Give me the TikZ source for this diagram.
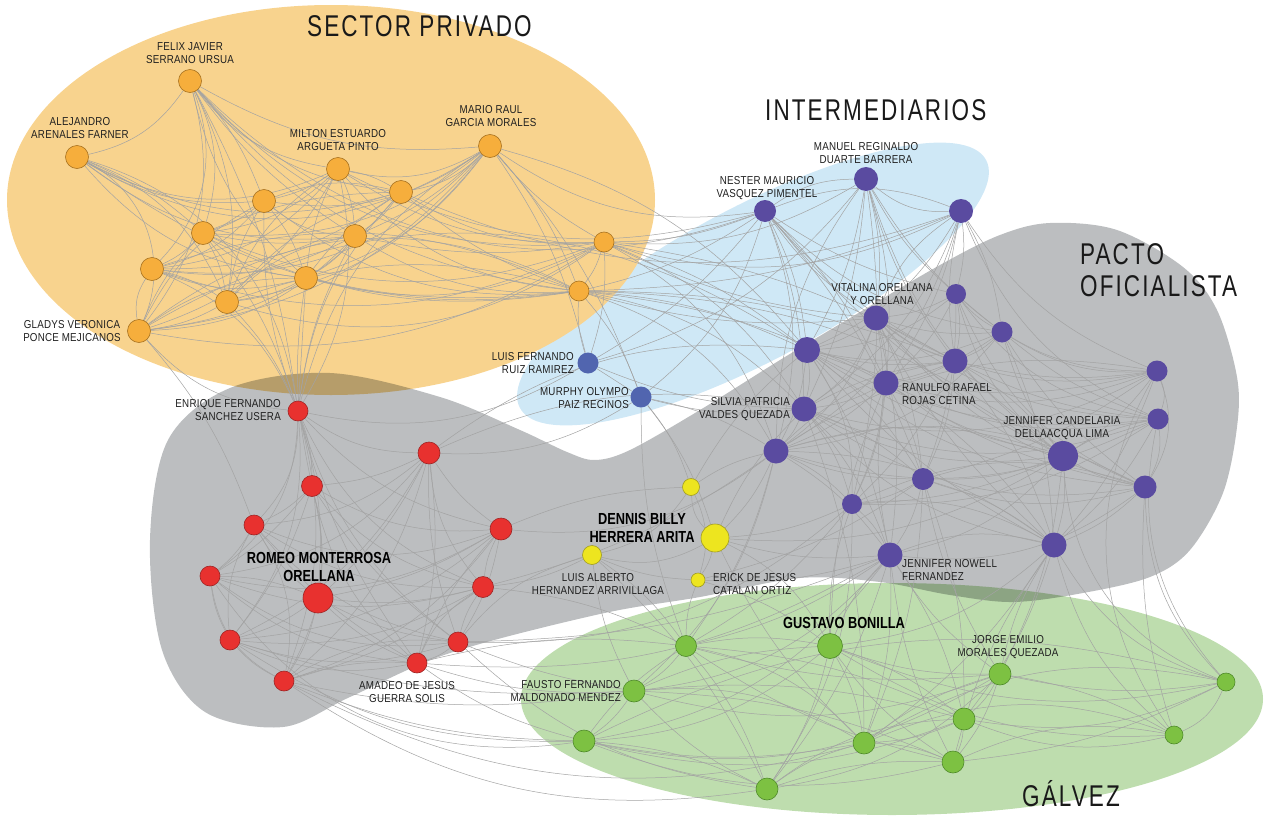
\documentclass[tikz,border=0pt]{standalone}
\usepackage{fontspec}
\setmainfont{Liberation Sans}
\newfontfamily\lblf{Liberation Sans}[FakeStretch=0.85,LetterSpace=2]
\newfontfamily\blf{Liberation Sans}[FakeStretch=0.8]
\newfontfamily\ttlf{Liberation Sans}[FakeStretch=0.75,LetterSpace=7]
\pgfdeclarelayer{regions}
\pgfdeclarelayer{edges}
\pgfsetlayers{regions,edges,main}
\definecolor{orgreg}{HTML}{F8D38E}
\definecolor{bluereg}{HTML}{CFE8F6}
\definecolor{grayreg}{HTML}{BCBEC0}
\definecolor{greenreg}{HTML}{BEDDAE}
\definecolor{orgn}{HTML}{F6AE3C}
\definecolor{orgd}{HTML}{A87220}
\definecolor{redn}{HTML}{E8312F}
\definecolor{redd}{HTML}{9E2424}
\definecolor{purn}{HTML}{5A4BA0}
\definecolor{blun}{HTML}{5165AF}
\definecolor{yeln}{HTML}{EDE51F}
\definecolor{yeld}{HTML}{9F9A20}
\definecolor{grnn}{HTML}{7DC142}
\definecolor{grnd}{HTML}{4F8A2A}
\tikzset{
  vtx/.style={circle,inner sep=0pt,line width=0.6pt},
  orv/.style={vtx,fill=orgn,draw=orgd,minimum size=23pt},
  rdv/.style={vtx,fill=redn,draw=redd,minimum size=20pt},
  puv/.style={vtx,fill=purn,minimum size=24pt},
  buv/.style={vtx,fill=blun,minimum size=21pt},
  yev/.style={vtx,fill=yeln,draw=yeld,minimum size=17pt},
  grv/.style={vtx,fill=grnn,draw=grnd,minimum size=22pt},
  lnk/.style={draw=black!36,line width=0.5pt},
  lbl/.style={font=\lblf\fontsize{11.5}{12.5}\selectfont,align=center,inner sep=0pt,text=black!88},
  blbl/.style={font=\blf\bfseries\fontsize{16}{18.5}\selectfont,align=center,inner sep=0pt,text=black},
  ttl/.style={font=\ttlf\fontsize{30}{32}\selectfont,inner sep=0pt,anchor=base west,text=black!90},
}
\newcommand{\drawlinks}[1]{\foreach \a/\b/\c in {#1}{\pgfmathtruncatemacro{\bb}{2.2*\c}\draw[lnk] (\a) to[bend left=\bb] (\b);}}
\begin{document}
\begin{tikzpicture}[x=1pt,y=-1pt]
\useasboundingbox (0,0) rectangle (1267,819);
\begin{pgfonlayer}{regions}
\fill[bluereg, rotate around={28:(753,284)}] (753,284) ellipse [x radius=264, y radius=77];
\fill[orgreg] (331,200) ellipse [x radius=324, y radius=195];
\begin{scope}[blend mode=multiply]
\fill[grayreg] plot[smooth cycle, tension=0.55] coordinates {
 (330,373) (440,397) (520,430) (567,452) (595,460) (630,450) (700,410) (780,360) (850,318)
 (940,265) (1000,235) (1050,223) (1117,230) (1183,267) (1217,310) (1237,377) (1237,427)
 (1223,493) (1190,550) (1150,577) (1083,593) (1013,602) (950,595) (880,582) (800,578)
 (700,597) (600,614) (450,653) (350,697) (283,727) (205,712) (162,650) (150,540) (168,440) (230,388)};
\fill[greenreg] (892,699) ellipse [x radius=371, y radius=116];
\end{scope}
\end{pgfonlayer}
% orange
\node[orv] (O1) at (190,81) {};
\node[orv] (O2) at (77,157) {};
\node[orv] (O3) at (338,169) {};
\node[orv] (O4) at (490,146) {};
\node[orv] (O5) at (401,192) {};
\node[orv] (O6) at (264,201) {};
\node[orv] (O7) at (203,233) {};
\node[orv] (O8) at (355,236) {};
\node[orv] (O9) at (152,269) {};
\node[orv] (O10) at (306,278) {};
\node[orv] (O11) at (227,302) {};
\node[orv] (O12) at (139,331) {};
\node[orv,minimum size=20pt] (O13) at (604,242) {};
\node[orv,minimum size=20pt] (O14) at (579,291) {};
% blue
\node[buv] (B1) at (588,363) {};
\node[buv] (B2) at (641,397) {};
% purple
\node[puv,minimum size=22pt] (P1) at (765,211) {};
\node[puv] (P2) at (866,179) {};
\node[puv] (P3) at (961,211) {};
\node[puv,minimum size=20pt] (P4) at (956,294) {};
\node[puv,minimum size=25pt] (P5) at (876,318) {};
\node[puv,minimum size=21pt] (P6) at (1002,332) {};
\node[puv,minimum size=26pt] (P7) at (807,350) {};
\node[puv,minimum size=25pt] (P8) at (955,361) {};
\node[puv,minimum size=25pt] (P9) at (886,383) {};
\node[puv,minimum size=25pt] (P10) at (804,409) {};
\node[puv,minimum size=21pt] (P11) at (1157,371) {};
\node[puv,minimum size=21pt] (P12) at (1158,419) {};
\node[puv,minimum size=30pt] (P13) at (1063,456) {};
\node[puv,minimum size=25pt] (P14) at (776,451) {};
\node[puv,minimum size=22pt] (P15) at (923,479) {};
\node[puv,minimum size=20pt] (P16) at (852,504) {};
\node[puv,minimum size=23pt] (P17) at (1145,487) {};
\node[puv,minimum size=25pt] (P18) at (1054,545) {};
\node[puv,minimum size=25pt] (P19) at (890,555) {};
% yellow
\node[yev] (Y1) at (691,487) {};
\node[yev,minimum size=28pt] (Y2) at (715,538) {};
\node[yev,minimum size=19pt] (Y3) at (592,555) {};
\node[yev,minimum size=14pt] (Y4) at (698,580) {};
% red
\node[rdv] (R1) at (298,411) {};
\node[rdv,minimum size=22pt] (R2) at (429,453) {};
\node[rdv,minimum size=21pt] (R3) at (312,486) {};
\node[rdv] (R4) at (254,525) {};
\node[rdv,minimum size=22pt] (R5) at (501,529) {};
\node[rdv] (R6) at (210,576) {};
\node[rdv,minimum size=21pt] (R7) at (483,587) {};
\node[rdv,minimum size=30pt] (R8) at (318,598) {};
\node[rdv] (R9) at (230,640) {};
\node[rdv] (R10) at (458,642) {};
\node[rdv] (R11) at (417,663) {};
\node[rdv] (R12) at (284,681) {};
% green
\node[grv,minimum size=21pt] (G1) at (686,646) {};
\node[grv,minimum size=25pt] (G2) at (830,646) {};
\node[grv] (G3) at (634,691) {};
\node[grv] (G4) at (1000,674) {};
\node[grv,minimum size=18pt] (G5) at (1226,682) {};
\node[grv] (G6) at (964,719) {};
\node[grv] (G7) at (584,741) {};
\node[grv] (G8) at (864,743) {};
\node[grv,minimum size=18pt] (G9) at (1174,735) {};
\node[grv] (G10) at (953,762) {};
\node[grv] (G11) at (767,789) {};

\begin{pgfonlayer}{edges}
\drawlinks{
O1/O2/10, O1/O3/-10, O1/O4/-8, O1/O5/-10, O1/O6/5, O1/O7/10, O1/O8/-5, O1/O9/15, O1/O10/-8, O1/O11/8, O1/O12/12, O1/O13/-12, O1/O14/-10,
O2/O3/-12, O2/O4/-15, O2/O6/-8, O2/O7/5, O2/O8/-10, O2/O10/-10, O2/O11/10, O2/O12/20, O2/O5/-10, O2/O14/-10,
O3/O4/-10, O3/O5/5, O3/O6/5, O3/O7/8, O3/O8/5, O3/O9/10, O3/O10/-5, O3/O11/-8, O3/O12/10, O3/O13/-8, O3/O14/-10,
O4/O5/8, O4/O6/10, O4/O7/10, O4/O8/5, O4/O9/12, O4/O10/8, O4/O11/10, O4/O12/10, O4/O13/-5, O4/O14/5,
O5/O6/-8, O5/O7/-5, O5/O8/5, O5/O9/8, O5/O10/-5, O5/O11/-8, O5/O12/10, O5/O13/-8, O5/O14/-5,
O6/O7/5, O6/O8/-8, O6/O9/8, O6/O10/5, O6/O11/-5, O6/O12/-8, O6/O14/-10,
O7/O8/-5, O7/O9/5, O7/O10/-8, O7/O11/5, O7/O12/-5, O7/O13/-10, O7/O14/-8,
O8/O9/8, O8/O10/5, O8/O11/-8, O8/O12/10, O8/O13/-5, O8/O14/-8,
O9/O10/-8, O9/O11/5, O9/O12/-10, O9/O14/10, O9/O13/-10,
O10/O11/5, O10/O12/-8, O10/O13/-10, O10/O14/-5,
O11/O12/5, O11/O13/-12, O11/O14/8, O12/O14/15, O12/O13/-10, O13/O14/5,
O1/R1/5, O3/R1/10, O6/R1/-5, O7/R1/5, O8/R1/-5, O10/R1/0, O11/R1/5, O9/R1/10, O5/R1/-8, O12/R1/-10, O2/R1/15, O4/R1/-10,
O12/R4/5, O10/R3/-5,
O13/P1/-5, O13/P2/-8, O13/P3/-10, O13/P5/-5, O13/P7/5, O13/P10/8, O13/P8/5, O13/P14/10, O13/B1/5,
O14/P1/-5, O14/P7/5, O14/P5/-5, O14/P10/8, O14/P14/10, O14/P9/5, O14/P3/-5, O14/B1/-5, O14/B2/5, O14/P8/5, O14/P13/8,
O4/P1/-10, O4/B2/5, O4/P7/8, O3/P1/-10, O5/P3/-10, O1/P1/-15, O12/P7/15, O4/B1/5,
B1/P1/-5, B1/P2/-8, B1/R1/10, B1/P10/-5, B2/P1/-8, B2/Y2/5, B2/P10/-5, B2/P14/5, B2/G1/-5, B2/Y1/5, B2/R2/8, B1/B2/0
}
\drawlinks{
P1/P2/8, P1/P3/10, P1/P5/-5, P1/P7/5, P1/P8/-5, P1/P9/5, P1/P10/5, P1/P14/8, P1/P4/-5, P1/P6/-8, P1/P13/-5, P1/P15/5,
P2/P3/-10, P2/P5/5, P2/P7/5, P2/P8/-5, P2/P9/5, P2/P10/5, P2/P14/-8, P2/P4/-5, P2/P6/-5, P2/P13/-8, P2/P16/5,
P3/P4/5, P3/P5/-8, P3/P7/8, P3/P8/-5, P3/P10/8, P3/P14/10, P3/P9/5, P3/P12/-10, P3/P6/5, P3/P11/-8,
P4/P5/5, P4/P6/-5, P4/P7/8, P4/P8/5, P4/P11/-10, P4/P12/-10, P4/P13/-8, P4/P17/-10, P4/P15/5, P4/P9/5,
P5/P6/-5, P5/P7/5, P5/P8/-5, P5/P9/5, P5/P10/8, P5/P11/-10, P5/P12/-8, P5/P13/-5, P5/P14/8, P5/P15/5, P5/P16/8, P5/P17/-8, P5/P18/-5, P5/P19/5,
P6/P7/8, P6/P8/5, P6/P9/5, P6/P11/-8, P6/P12/-5, P6/P13/-5, P6/P17/-5, P6/P14/10, P6/P18/5,
P7/P8/-5, P7/P9/5, P7/P10/5, P7/P11/-8, P7/P12/-8, P7/P13/-5, P7/P14/5, P7/P15/5, P7/P16/8, P7/P17/-8, P7/P18/-5, P7/P19/5,
P8/P9/5, P8/P10/-5, P8/P11/-5, P8/P12/-5, P8/P13/5, P8/P14/-8, P8/P15/5, P8/P17/-5, P8/P18/5, P8/P16/5,
P9/P10/5, P9/P11/-8, P9/P12/-8, P9/P13/-5, P9/P14/5, P9/P15/5, P9/P16/5, P9/P17/-5, P9/P18/5, P9/P19/-5,
P10/P11/-10, P10/P12/-10, P10/P13/-8, P10/P14/5, P10/P15/5, P10/P16/5, P10/P17/-10, P10/P18/-8, P10/P19/5,
P11/P12/10, P11/P13/5, P11/P17/12, P11/P18/5, P11/P14/-10, P11/P15/5,
P12/P13/-5, P12/P17/8, P12/P18/5, P12/P14/10, P12/P16/8,
P13/P14/-8, P13/P15/5, P13/P16/5, P13/P17/-5, P13/P18/5, P13/P19/8,
P14/P15/-5, P14/P16/5, P14/P17/10, P14/P18/8, P14/P19/5,
P15/P16/5, P15/P17/-8, P15/P18/5, P15/P19/5, P16/P17/10, P16/P18/8, P16/P19/5,
P17/P18/5, P17/P19/10, P18/P19/-8,
P19/G1/5, P19/G2/-5, P19/G3/10, P19/G4/-5, P19/G6/5, P19/G8/5, P19/G10/-5, P19/G11/5, P19/G7/10,
P18/G2/8, P18/G4/-5, P18/G6/5, P18/G10/-5, P18/G5/-10, P18/G9/-8, P18/G8/5, P17/G5/-10, P17/G9/-5,
P13/G5/-15, P13/G4/5, P16/G1/5, P16/G11/8, P15/G6/5, P15/G8/5, P14/G1/5, P14/G3/8, P11/G9/-15, P12/G5/-12,
P16/G2/-5, P15/G4/-5, P9/G2/-5, P10/G8/5,
P14/Y1/-5, P14/Y2/5, P10/Y2/-5, P16/Y2/5, P19/Y2/5, P13/Y2/8, P7/Y1/-5, P15/Y4/5, P19/Y4/5,
P14/R5/10, P10/R2/-8, P7/R2/-10, P14/R7/5, P16/R10/10, P19/R10/5, P19/R11/8
}
\drawlinks{
Y1/Y2/-10, Y1/Y4/10, Y2/Y3/10, Y2/Y4/5, Y3/Y4/-5, Y3/Y1/-10, Y3/G1/5, Y3/G3/-5, Y3/R7/5, Y3/R10/-8, Y4/G2/5, Y4/G1/-5, Y2/G2/8, Y2/G8/-5, Y3/G11/5, Y1/R5/-5,
R1/R2/-8, R1/R3/5, R1/R4/10, R1/R5/-8, R1/R6/12, R1/R7/-10, R1/R8/5, R1/R9/10, R1/R10/-8, R1/R11/-5, R1/R12/8,
R2/R3/5, R2/R4/8, R2/R5/-5, R2/R6/10, R2/R7/-8, R2/R8/5, R2/R9/8, R2/R10/-5, R2/R11/5, R2/R12/8,
R3/R4/5, R3/R5/-8, R3/R6/5, R3/R7/-8, R3/R8/5, R3/R9/5, R3/R10/-5, R3/R11/-8, R3/R12/10,
R4/R5/-10, R4/R6/5, R4/R7/-8, R4/R8/-5, R4/R9/-8, R4/R10/-8, R4/R11/-5, R4/R12/10,
R5/R6/10, R5/R7/-5, R5/R8/5, R5/R9/8, R5/R10/5, R5/R11/-5, R5/R12/8,
R6/R7/-8, R6/R8/5, R6/R9/-5, R6/R10/-10, R6/R11/-8, R6/R12/-12,
R7/R8/5, R7/R9/8, R7/R10/-5, R7/R11/-8, R7/R12/5,
R8/R9/5, R8/R10/-5, R8/R11/-5, R8/R12/5, R9/R10/-8, R9/R11/-8, R9/R12/-5,
R10/R11/5, R10/R12/-8, R11/R12/-5,
R12/G3/-5, R12/G7/-5, R11/G3/-5, R11/G7/-5, R10/G3/-3, R9/G7/-8, R12/G11/-10, R9/G3/-5, R11/G1/5, R7/G1/5, R12/G8/-10, R6/G7/-15, R10/G11/-8,
G1/G2/5, G1/G3/5, G1/G7/-5, G1/G8/8, G1/G10/-5, G1/G6/5, G1/G11/5, G1/G4/-5,
G2/G3/-5, G2/G4/-5, G2/G6/5, G2/G7/8, G2/G8/5, G2/G10/-5, G2/G11/5, G2/G9/-8, G2/G5/-8,
G3/G7/5, G3/G8/8, G3/G10/5, G3/G11/-5, G3/G6/5, G3/G4/-8,
G4/G5/-5, G4/G6/5, G4/G7/10, G4/G8/-5, G4/G9/5, G4/G10/5, G4/G11/8,
G5/G9/10, G5/G6/8, G5/G8/-10, G5/G10/5, G5/G7/-10,
G6/G7/8, G6/G8/5, G6/G9/-8, G6/G10/5, G6/G11/-8,
G7/G8/-5, G7/G10/-8, G7/G11/5, G8/G10/5, G8/G11/-5, G8/G9/10, G9/G10/-8, G10/G11/-5
}
\end{pgfonlayer}

% titles
\node[ttl] (t1) at (307,36) {SECTOR PRIVADO};
\node[ttl] (t2) at (765,120) {INTERMEDIARIOS};
\node[ttl] (t3) at (1080,264) {PACTO};
\node[ttl] (t4) at (1080,296) {OFICIALISTA};
\node[ttl] (t5) at (1022,806) {GÁLVEZ};
% labels
\node[lbl] (l1) at (190,53) {FELIX JAVIER\\SERRANO URSUA};
\node[lbl] (l2) at (80,128) {ALEJANDRO\\ARENALES FARNER};
\node[lbl] (l3) at (338,140) {MILTON ESTUARDO\\ARGUETA PINTO};
\node[lbl] (l4) at (491,116) {MARIO RAUL\\GARCIA MORALES};
\node[lbl] (l5) at (72,331) {GLADYS VERONICA\\PONCE MEJICANOS};
\node[lbl] (l6) at (767,188) {NESTER MAURICIO\\VASQUEZ PIMENTEL};
\node[lbl] (l7) at (866,153) {MANUEL REGINALDO\\DUARTE BARRERA};
\node[lbl] (l8) at (882,294) {VITALINA ORELLANA\\Y ORELLANA};
\node[lbl,align=right,anchor=east] (l9) at (574,363) {LUIS FERNANDO\\RUIZ RAMIREZ};
\node[lbl,align=right,anchor=east] (l10) at (629,398) {MURPHY OLYMPO\\PAIZ RECINOS};
\node[lbl,align=right,anchor=east] (l11) at (790,409) {SILVIA PATRICIA\\VALDES QUEZADA};
\node[lbl,align=left,anchor=west] (l12) at (902,394) {RANULFO RAFAEL\\ROJAS CETINA};
\node[lbl] (l13) at (1062,428) {JENNIFER CANDELARIA\\DELLAACQUA LIMA};
\node[lbl,align=left,anchor=west] (l14) at (902,570) {JENNIFER NOWELL\\FERNANDEZ};
\node[lbl,align=right,anchor=east] (l15) at (281,410) {ENRIQUE FERNANDO\\SANCHEZ USERA};
\node[blbl] (l16) at (319,567) {ROMEO MONTERROSA\\ORELLANA};
\node[lbl] (l17) at (407,692) {AMADEO DE JESUS\\GUERRA SOLIS};
\node[blbl] (l18) at (642,528) {DENNIS BILLY\\HERRERA ARITA};
\node[lbl] (l19) at (598,584) {LUIS ALBERTO\\HERNANDEZ ARRIVILLAGA};
\node[lbl,align=left,anchor=west] (l20) at (713,584) {ERICK DE JESUS\\CATALAN ORTIZ};
\node[blbl] (l21) at (844,623) {GUSTAVO BONILLA};
\node[lbl,align=right,anchor=east] (l22) at (621,691) {FAUSTO FERNANDO\\MALDONADO MENDEZ};
\node[lbl] (l23) at (1008,647) {JORGE EMILIO\\MORALES QUEZADA};
\end{tikzpicture}
\end{document}
